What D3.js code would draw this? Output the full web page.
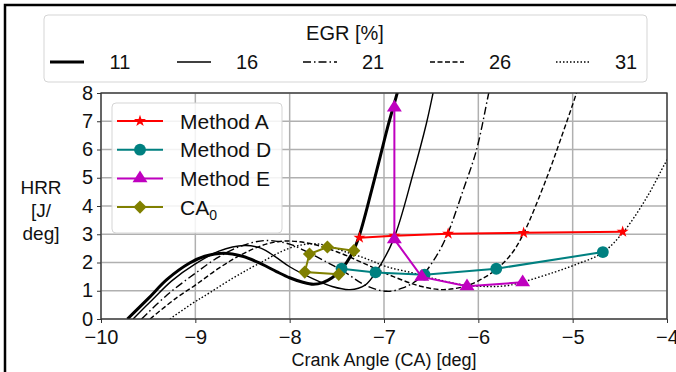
<!DOCTYPE html>
<html>
<head>
<meta charset="utf-8">
<script src="https://cdn.jsdelivr.net/npm/d3@7"></script>
<style>
  body { margin: 0; background: #fff; }
  svg { font-family: "Liberation Sans", Arial, sans-serif; }
</style>
</head>
<body>
<div id="chart"></div>
<script>
// HRR curves per EGR rate, [crank angle, HRR]
var egrLevels = ["11", "16", "21", "26", "31"];
var curve11 = [[-9.72,0],[-9.5,0.72],[-9.3,1.4],[-9.06,1.98],[-8.9,2.22],[-8.7,2.33],[-8.5,2.22],[-8.3,1.95],[-8.14,1.68],[-8.0,1.46],[-7.86,1.3],[-7.75,1.23],[-7.65,1.29],[-7.55,1.46],[-7.45,1.77],[-7.35,2.25],[-7.27,2.87],[-7.13,4.57],[-7.04,5.75],[-6.95,6.93],[-6.86,8.0],[-6.8,8.8]];
var curve16 = [[-9.66,0],[-9.45,0.7],[-9.25,1.35],[-9.0,1.95],[-8.75,2.4],[-8.48,2.6],[-8.3,2.5],[-8.15,2.2],[-8.0,1.85],[-7.75,1.42],[-7.55,1.15],[-7.36,1.04],[-7.2,1.2],[-7.08,1.69],[-6.9,2.81],[-6.69,5.16],[-6.55,6.93],[-6.48,8.0],[-6.43,8.8]];
var curve21 = [[-9.57,0],[-9.3,0.85],[-9.0,1.62],[-8.75,2.2],[-8.5,2.6],[-8.25,2.78],[-8.0,2.65],[-7.8,2.35],[-7.6,2.0],[-7.43,1.69],[-7.2,1.2],[-6.97,0.98],[-6.8,1.1],[-6.62,1.45],[-6.45,2.2],[-6.33,2.98],[-6.16,4.57],[-6.02,5.98],[-5.89,8.0],[-5.84,8.8]];
var curve26 = [[-9.48,0],[-9.2,0.75],[-9.0,1.2],[-8.75,1.8],[-8.5,2.3],[-8.25,2.65],[-8.05,2.76],[-7.8,2.68],[-7.5,2.38],[-7.2,1.95],[-6.9,1.5],[-6.6,1.15],[-6.37,1.04],[-6.15,1.15],[-6.0,1.35],[-5.82,1.73],[-5.65,2.3],[-5.52,3.03],[-5.27,5.04],[-5.13,6.34],[-4.96,8.0],[-4.9,8.7]];
var curve31 = [[-9.27,0],[-9.0,0.62],[-8.91,0.8],[-8.6,1.45],[-8.35,1.92],[-8.0,2.51],[-7.78,2.66],[-7.6,2.6],[-7.43,2.4],[-7.2,2.15],[-6.97,1.85],[-6.72,1.65],[-6.5,1.45],[-6.16,1.21],[-5.9,1.15],[-5.7,1.18],[-5.52,1.32],[-5.2,1.65],[-4.95,1.95],[-4.69,2.33],[-4.46,3.09],[-4.21,4.33],[-4.02,5.51],[-3.95,5.9]];

// marker series
var methodA_x = [-7.26, -6.89, -6.32, -5.52, -4.47];
var methodA_y = [2.88, 2.95, 3.02, 3.05, 3.09];
var methodD_x = [-7.45, -7.09, -6.57, -5.81, -4.68];
var methodD_y = [1.78, 1.65, 1.57, 1.78, 2.37];
var methodE_x = [-6.89, -6.89, -6.60, -6.12, -5.53];
var methodE_y = [7.48, 2.82, 1.49, 1.16, 1.30];
var ca0_x = [-7.48, -7.84, -7.79, -7.60, -7.32];
var ca0_y = [1.58, 1.66, 2.30, 2.55, 2.42];

var xTicks = [-10, -9, -8, -7, -6, -5, -4];
var yTicks = [0, 1, 2, 3, 4, 5, 6, 7, 8];

var W = 676, H = 372;
var svg = d3.select("#chart").append("svg").attr("width", W).attr("height", H);

// outer frame (cut at right/bottom)
svg.append("rect").attr("x", 5).attr("y", 5).attr("width", 700).attr("height", 400)
  .attr("fill", "none").attr("stroke", "#000").attr("stroke-width", 2.5);

var x = d3.scaleLinear().domain([-10, -4]).range([101, 667]);
var y = d3.scaleLinear().domain([0, 8]).range([319, 93]);

// grid
svg.append("g").selectAll("line").data(xTicks).enter().append("line")
  .attr("x1", d => x(d)).attr("x2", d => x(d)).attr("y1", y(0)).attr("y2", y(8))
  .attr("stroke", "#b0b0b0").attr("stroke-width", 1.5);
svg.append("g").selectAll("line").data(yTicks).enter().append("line")
  .attr("x1", x(-10)).attr("x2", x(-4)).attr("y1", d => y(d)).attr("y2", d => y(d))
  .attr("stroke", "#b0b0b0").attr("stroke-width", 1.5);

svg.append("clipPath").attr("id", "plotclip").append("rect")
  .attr("x", x(-10)).attr("y", y(8)).attr("width", x(-4) - x(-10)).attr("height", y(0) - y(8));

var plot = svg.append("g").attr("clip-path", "url(#plotclip)");

var line = d3.line().x(d => x(d[0])).y(d => y(d[1])).curve(d3.curveCatmullRom.alpha(0.5));

var curveStyles = [
  { data: curve11, w: 3, dash: null },
  { data: curve16, w: 1.4, dash: null },
  { data: curve21, w: 1.4, dash: "8,3,1.5,3" },
  { data: curve26, w: 1.4, dash: "5,2.5" },
  { data: curve31, w: 1.4, dash: "1.5,2" }
];
curveStyles.forEach(function(c) {
  plot.append("path").datum(c.data).attr("d", line)
    .attr("fill", "none").attr("stroke", "#000").attr("stroke-width", c.w)
    .attr("stroke-dasharray", c.dash);
});

// marker shapes
var sym = {
  star: d3.symbol().type(d3.symbolStar).size(45),
  circle: d3.symbol().type(d3.symbolCircle).size(110),
  tri: d3.symbol().type(d3.symbolTriangle).size(80),
  diamond: d3.symbol().type(d3.symbolSquare).size(120)
};

var series = [
  { name: "Method A", xs: methodA_x, ys: methodA_y, color: "#ff0000", mk: "star" },
  { name: "Method D", xs: methodD_x, ys: methodD_y, color: "#008080", mk: "circle" },
  { name: "Method E", xs: methodE_x, ys: methodE_y, color: "#bf00bf", mk: "tri" },
  { name: "CA", xs: ca0_x, ys: ca0_y, color: "#808000", mk: "diamond" }
];

function drawMarker(g, s, px, py) {
  var m = g.append("path").attr("d", sym[s.mk]()).attr("fill", s.color);
  if (s.mk === "diamond") m.attr("transform", "translate(" + px + "," + py + ") rotate(45) scale(0.85,0.85)");
  else if (s.mk === "tri") m.attr("transform", "translate(" + px + "," + py + ") scale(1.1,1)");
  else m.attr("transform", "translate(" + px + "," + py + ")");
}

var lin = d3.line().x(d => x(d[0])).y(d => y(d[1]));
series.forEach(function(s) {
  var pts = s.xs.map((v, i) => [v, s.ys[i]]);
  plot.append("path").datum(pts).attr("d", lin)
    .attr("fill", "none").attr("stroke", s.color).attr("stroke-width", 2);
  pts.forEach(function(p) { drawMarker(plot, s, x(p[0]), y(p[1])); });
});

// plot frame
svg.append("rect").attr("x", x(-10)).attr("y", y(8)).attr("width", x(-4) - x(-10)).attr("height", y(0) - y(8))
  .attr("fill", "none").attr("stroke", "#333").attr("stroke-width", 1.3);

// axes
var fmt = d => d < 0 ? "\u2212" + Math.abs(d) : String(d);
var xAxis = svg.append("g").attr("transform", "translate(0," + y(0) + ")")
  .call(d3.axisBottom(x).tickValues(xTicks).tickFormat(fmt).tickSize(4).tickPadding(7));
var yAxis = svg.append("g").attr("transform", "translate(" + x(-10) + ",0)")
  .call(d3.axisLeft(y).tickValues(yTicks).tickSize(4).tickPadding(4));
[xAxis, yAxis].forEach(function(a) {
  a.select(".domain").remove();
  a.selectAll("line").attr("stroke", "#333");
  a.selectAll("text").attr("font-size", 20).attr("fill", "#111")
    .attr("font-family", "Liberation Sans, Arial, sans-serif");
});
yAxis.selectAll("text").attr("dy", "0.3em");

svg.append("text").attr("x", 384).attr("y", 366).attr("text-anchor", "middle")
  .attr("font-size", 18).attr("fill", "#111").text("Crank Angle (CA) [deg]");

var ylab = svg.append("text").attr("font-size", 19).attr("fill", "#111").attr("text-anchor", "middle");
["HRR", "[J/", "deg]"].forEach(function(t, i) {
  ylab.append("tspan").attr("x", 41).attr("y", 194 + i * 23).text(t);
});

// inner legend
var lg = svg.append("g");
lg.append("rect").attr("x", 112).attr("y", 103).attr("width", 170).attr("height", 130).attr("rx", 4)
  .attr("fill", "#fff").attr("fill-opacity", 0.85).attr("stroke", "#d5d5d5");
series.forEach(function(s, i) {
  var ly = 121 + i * 28.7;
  lg.append("line").attr("x1", 117).attr("x2", 163).attr("y1", ly).attr("y2", ly)
    .attr("stroke", s.color).attr("stroke-width", 2);
  drawMarker(lg, s, 140, ly);
  var t = lg.append("text").attr("x", 180).attr("y", ly + 7.5).attr("font-size", 21).attr("fill", "#111").text(s.name);
  if (s.name === "CA") t.append("tspan").attr("dy", 5).attr("font-size", 14).text("0");
});

// top legend
var tg = svg.append("g");
tg.append("rect").attr("x", 44).attr("y", 15).attr("width", 603).attr("height", 67).attr("rx", 4)
  .attr("fill", "#fff").attr("stroke", "#d5d5d5");
tg.append("text").attr("x", 345).attr("y", 40).attr("text-anchor", "middle")
  .attr("font-size", 20).attr("fill", "#111").text("EGR [%]");
var legX = [50, 177, 303, 430, 556];
egrLevels.forEach(function(lbl, i) {
  var c = curveStyles[i];
  tg.append("line").attr("x1", legX[i]).attr("x2", legX[i] + 34).attr("y1", 62).attr("y2", 62)
    .attr("stroke", "#000").attr("stroke-width", c.w).attr("stroke-dasharray", c.dash);
  tg.append("text").attr("x", legX[i] + 70).attr("y", 69).attr("text-anchor", "middle")
    .attr("font-size", 20).attr("fill", "#111").text(lbl);
});
</script>
</body>
</html>
